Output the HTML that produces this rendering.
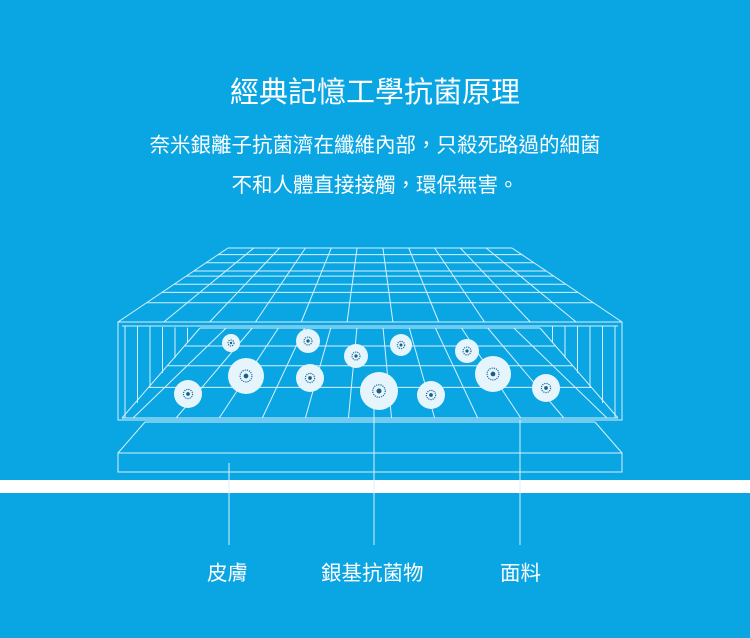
<!DOCTYPE html>
<html><head><meta charset="utf-8"><style>
html,body{margin:0;padding:0}
body{width:750px;height:638px;background:#0aa6e3;position:relative;overflow:hidden;font-family:"Liberation Sans","Noto Sans CJK TC",sans-serif;color:#fff}
.t{position:absolute;left:0;width:750px;text-align:center;white-space:nowrap}
.l{position:absolute;font-size:20.5px;white-space:nowrap}
svg{position:absolute;left:0;top:0}
</style></head><body>
<svg id="s" width="750" height="638" viewBox="0 0 750 638">
<g fill="none" stroke="#d8f0fb" stroke-width="1" id="g"></g>
<rect x="0" y="480" width="750" height="13" fill="#fff"/>
<g stroke="#d8f0fb" stroke-width="1">
<line x1="229" y1="463" x2="229" y2="545"/>
<line x1="374" y1="400" x2="374" y2="545"/>
<line x1="520" y1="420" x2="520" y2="545"/>
</g>
<g id="b"></g>
</svg>
<div class="t" style="top:69px;font-size:29px">經典記憶工學抗菌原理</div>
<div class="t" style="top:128px;font-size:20.5px">奈米銀離子抗菌濟在纖維內部，只殺死路過的細菌</div>
<div class="t" style="top:168px;font-size:20.5px">不和人體直接接觸，環保無害。</div>
<div class="l" style="left:207px;top:556px">皮膚</div>
<div class="l" style="left:321px;top:556px">銀基抗菌物</div>
<div class="l" style="left:500px;top:556px">面料</div>
<script>
var g=document.getElementById('g'),h='';
function L(a,b,c,d){h+='<line x1="'+a+'" y1="'+b+'" x2="'+c+'" y2="'+d+'"/>';}
function lerp(a,b,t){return a+(b-a)*t;}
var rows=[0,.09,.2,.31,.38,.49,.6,.74,1];
for(var i=0;i<rows.length;i++){var t=rows[i];var y=lerp(248,322,t);L(lerp(228,118,t),y,lerp(512,622,t),y);}
for(var j=0;j<=11;j++){var u=j/11;L(lerp(228,512,u),248,lerp(118,622,u),322);}
h+='<rect x="118" y="322" width="504" height="98"/>';
L(122,326,618,326);
for(var k=0;k<6;k++){var t=k/6;var x=lerp(125,200,t);L(x,lerp(326,328,t),x,lerp(418,328,t));}
for(var k=0;k<6;k++){var t=k/6;var x=lerp(615,540,t);L(x,326,x,lerp(418,328,t));}
var fr=[0,.2,.42,.66,1];
for(var i=0;i<fr.length;i++){var t=fr[i];var y=lerp(328,418,t);L(lerp(200,122,t),y,lerp(540,618,t),y);}
for(var j=0;j<=13;j++){var u=j/13;var xb=lerp(90,650,u);L(lerp(200,540,u),328,xb<122?122:xb>618?618:xb,418);}
L(145,422,118,453);L(595,422,622,453);L(145,422,595,422);
h+='<rect x="118" y="453" width="504" height="19"/>';
g.innerHTML=h;
var B=[[231,343,9],[246,376,18],[188,394,14],[308,341,12],[310,378,14],[356,356,12],[379,391,19],[401,345,11],[467,351,12],[493,374,18],[431,395,14],[546,388,14]],bh='';
B.forEach(function(c){bh+='<circle cx="'+c[0]+'" cy="'+c[1]+'" r="'+c[2]+'" fill="#e6f5fc"/>';var r=c[2]*0.33;bh+='<circle cx="'+c[0]+'" cy="'+c[1]+'" r="'+r+'" fill="none" stroke="#1a6e9a" stroke-width="1.2" stroke-dasharray="1.2 1"/><circle cx="'+c[0]+'" cy="'+c[1]+'" r="'+(r*0.4)+'" fill="#1a5e88"/>';});
document.getElementById('b').innerHTML=bh;
</script>
</body></html>
